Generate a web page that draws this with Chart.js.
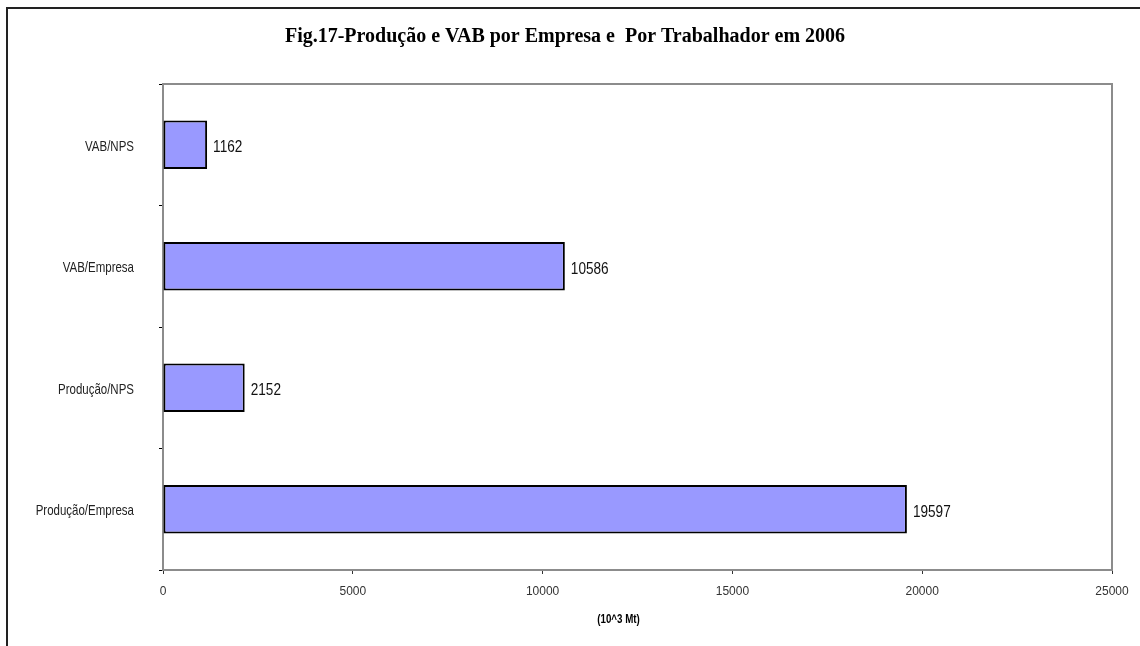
<!DOCTYPE html>
<html>
<head>
<meta charset="utf-8">
<script src="https://cdn.jsdelivr.net/npm/chart.js@4"></script>
<style>
  body { margin: 0; background: #fff; }
  #wrap { position: relative; width: 1140px; height: 646px; overflow: hidden; }
  #frame { position: absolute; left: 6px; top: 7px; width: 1200px; height: 700px; border: 2px solid #222; }
  canvas { position: absolute; left: 0; top: 0; }
</style>
</head>
<body>
<div id="wrap">
  <div id="frame"></div>
  <canvas id="fig17" width="1140" height="646"></canvas>
</div>
<script>
// Produção e VAB por empresa / por trabalhador, 2006 (10^3 Mt)
const categories = ["VAB/NPS", "VAB/Empresa", "Produção/NPS", "Produção/Empresa"];
const values = [1162, 10586, 2152, 19597];
const xTicks = [0, 5000, 10000, 15000, 20000, 25000];
const unitLabel = "(10^3 Mt)";

const sans = "'Liberation Sans', Arial, sans-serif";

// draw text squeezed horizontally (the original uses an Arial Narrow-like face)
function narrowText(ctx, text, x, y, squeeze, align) {
  ctx.save();
  ctx.translate(x, y);
  ctx.scale(squeeze, 1);
  ctx.textAlign = align;
  ctx.fillText(text, 0, 0);
  ctx.restore();
}

// grey frame on top/right of plot area
const plotFrame = {
  id: "plotFrame",
  beforeDatasetsDraw(chart) {
    const { ctx, chartArea: a } = chart;
    ctx.save();
    ctx.strokeStyle = "#8c8c8c";
    ctx.lineWidth = 2;
    ctx.strokeRect(a.left, a.top, a.right - a.left, a.bottom - a.top);
    ctx.restore();
  }
};

// value labels, category labels and unit label in narrow type
const narrowLabels = {
  id: "narrowLabels",
  afterDraw(chart) {
    const { ctx, scales } = chart;
    const meta = chart.getDatasetMeta(0);
    ctx.save();
    ctx.textBaseline = "middle";

    ctx.fillStyle = "#111";
    ctx.font = "17px " + sans;
    meta.data.forEach((bar, i) => {
      narrowText(ctx, String(values[i]), bar.x + 6, bar.y + 3, 0.8, "left");
    });

    ctx.fillStyle = "#222";
    ctx.font = "15px " + sans;
    categories.forEach((c, i) => {
      narrowText(ctx, c, scales.y.right - 29, scales.y.getPixelForValue(i) + 2, 0.766, "right");
    });

    ctx.fillStyle = "#000";
    ctx.font = "bold 13px " + sans;
    const cx = (scales.x.left + scales.x.right) / 2 - 19;
    narrowText(ctx, unitLabel, cx, scales.x.top + 49, 0.75, "center");
    ctx.restore();
  }
};

new Chart(document.getElementById("fig17"), {
  type: "bar",
  data: {
    labels: categories,
    datasets: [{
      data: values,
      backgroundColor: "#9999ff",
      borderColor: "#000",
      borderWidth: 2,
      borderSkipped: false,
      categoryPercentage: 1,
      barPercentage: 0.4
    }]
  },
  options: {
    indexAxis: "y",
    responsive: false,
    animation: false,
    layout: { padding: { left: 18, right: 28, top: 0, bottom: 0 } },
    plugins: {
      legend: { display: false },
      tooltip: { enabled: false },
      title: {
        display: true,
        text: "Fig.17-Produção e VAB por Empresa e  Por Trabalhador em 2006",
        color: "#000",
        font: { family: "'Liberation Serif', 'Times New Roman', serif", size: 20, weight: "bold" },
        padding: { top: 25, bottom: 35 }
      }
    },
    scales: {
      x: {
        min: 0,
        max: 25000,
        afterBuildTicks: s => { s.ticks = xTicks.map(v => ({ value: v })); },
        afterFit: s => { s.height = 76; },
        border: { color: "#333", width: 2 },
        grid: { drawOnChartArea: false, drawTicks: true, tickLength: 4, color: "#333" },
        ticks: {
          color: "#333",
          padding: 10,
          font: { family: sans, size: 12 },
          callback: v => String(v)
        }
      },
      y: {
        afterFit: s => { s.width = 145; },
        border: { color: "#000", width: 1.5 },
        grid: { offset: true, drawOnChartArea: false, drawTicks: true, tickLength: 4, color: "#000" },
        ticks: { color: "rgba(0,0,0,0)", padding: 23, font: { family: sans, size: 12 } }
      }
    }
  },
  plugins: [plotFrame, narrowLabels]
});
</script>
</body>
</html>
